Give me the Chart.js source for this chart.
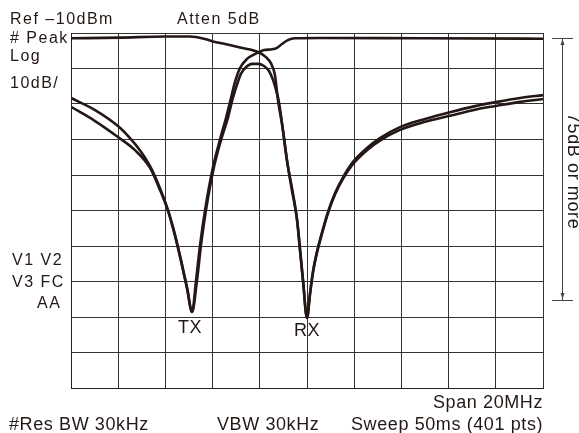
<!DOCTYPE html>
<html>
<head>
<meta charset="utf-8">
<script src="https://cdn.jsdelivr.net/npm/chart.js@4/dist/chart.umd.min.js"></script>
<style>
  html, body { margin: 0; padding: 0; background: #fff; }
  #mycanvas { display: block; }
</style>
</head>
<body>
<canvas id="mycanvas" width="579" height="433"></canvas>
<script>
// frequency offset across the 20MHz span (MHz) and level (dBm)
var freqA  = [0, 2.08, 3.98, 5.04, 5.68, 6.02, 6.53, 7.16, 7.97, 8.26, 8.47, 8.64, 8.77, 8.98, 9.15, 9.36, 9.58, 9.70, 9.83, 10.0,
              10.13, 10.25, 10.42, 10.64, 10.89, 11.19, 11.53, 11.95, 12.54, 13.09, 13.94, 15.0, 16.06, 17.12, 18.05, 19.03, 20.0];
var levelA = [-11.5, -11.3, -11.0, -11.0, -11.7, -12.4, -13.1, -14.1, -15.5, -16.8, -18.5, -21.8, -28.9, -37.3, -45.8, -54.2, -62.7, -71.1, -79.6, -90.3,
              -83.2, -77.3, -71.7, -66.1, -60.4, -55.1, -50.6, -46.3, -42.4, -39.6, -36.5, -34.2, -32.3, -30.6, -29.4, -28.3, -27.5];

var freqB  = [0, 1.02, 1.99, 2.50, 2.92, 3.35, 3.77, 4.11, 4.41, 4.66, 4.92, 5.13, 5.30, 5.47, 5.68, 6.02, 6.31, 6.57, 6.78, 6.95,
              7.16, 7.46, 7.71, 7.97, 8.18, 8.52, 8.73, 8.94, 9.19, 9.49, 10.55, 14.79, 20.0];
var levelB = [-28.3, -31.7, -36.2, -39.6, -43.0, -47.5, -53.7, -59.9, -66.9, -73.9, -81.8, -88.6, -79.6, -69.7, -59.9, -47.7, -40.1, -33.9, -28.3, -23.8,
              -19.9, -17.3, -16.2, -15.4, -14.8, -14.6, -14.2, -13.1, -12.0, -11.5, -11.4, -11.5, -11.6];

var freqC  = [0, 1.02, 1.99, 2.71, 3.35, 3.77, 4.11, 4.41, 4.66, 4.92, 5.13, 5.34, 5.51, 5.72, 6.06, 6.36, 6.65, 6.86, 7.03, 7.20,
              7.42, 7.67, 7.92, 8.18, 8.39, 8.56, 8.69, 8.81, 9.15, 9.58, 9.83, 10.0, 10.13, 10.25, 10.42, 10.64, 10.89, 11.19, 11.53,
              11.95, 12.54, 13.09, 13.94, 15.0, 16.06, 17.12, 18.05, 19.03, 20.0];
var levelC = [-30.8, -34.8, -39.3, -43.0, -48.0, -54.2, -60.1, -67.2, -74.2, -82.1, -88.6, -79.6, -69.7, -59.9, -47.7, -40.1, -33.9, -28.3, -24.6, -21.5,
              -19.6, -18.7, -18.7, -19.3, -20.7, -23.2, -26.1, -29.4, -45.8, -62.7, -79.6, -90.3, -83.5, -77.6, -72.0, -66.4, -60.7, -55.4, -51.0,
              -46.9, -43.0, -40.3, -37.3, -35.0, -33.3, -31.6, -30.5, -29.4, -28.6];

var xTicks = [0, 2, 4, 6, 8, 10, 12, 14, 16, 18, 20];
var yTicks = [-110, -100, -90, -80, -70, -60, -50, -40, -30, -20, -10];

var headLeft = ["Ref \u201310dBm", "# Peak", "Log", "10dB/"];
var headTop = "Atten 5dB";
var sideLeft = ["V1 V2", "V3 FC", "AA"];
var markers = ["TX", "RX"];
var footer = ["Span 20MHz", "#Res BW 30kHz", "VBW 30kHz", "Sweep 50ms (401 pts)"];
var sideNote = "75dB or more";

function pts(fs, ls) {
	var out = [];
	for (var i in fs) {
		out.push({x: fs[i], y: ls[i]});
	}
	return out;
}

var ink = '#231815';
var FONT = '"Liberation Sans", Arial, sans-serif';

function trace(fs, ls) {
	return {
		data: pts(fs, ls),
		borderColor: ink,
		borderWidth: 2.6,
		pointRadius: 0,
		fill: false,
		cubicInterpolationMode: 'monotone'
	};
}

var labelsPlugin = {
	id: 'screenText',
	afterDraw: function(chart) {
		var ctx = chart.ctx;
		ctx.save();
		ctx.fillStyle = ink;
		ctx.textBaseline = 'alphabetic';
		ctx.textAlign = 'left';

		ctx.font = '16px ' + FONT;
		ctx.letterSpacing = '1.5px';
		ctx.fillText(headLeft[0], 10, 24);
		ctx.fillText(headLeft[1], 10, 43);
		ctx.fillText(headLeft[2], 10, 61);
		ctx.fillText(headLeft[3], 10, 88);
		ctx.fillText(headTop, 177, 24);
		ctx.fillText(sideLeft[0], 12, 265);
		ctx.fillText(sideLeft[1], 12, 287);
		ctx.fillText(sideLeft[2], 37, 308);

		ctx.font = '18px ' + FONT;
		ctx.letterSpacing = '0.6px';
		ctx.fillText(markers[0], 178, 333);
		ctx.fillText(markers[1], 294, 336);
		ctx.fillText(footer[0], 433, 408);
		ctx.fillText(footer[1], 9, 430);
		ctx.fillText(footer[2], 217, 430);
		ctx.fillText(footer[3], 351, 430);

		// level bracket on the right
		var yTop = chart.scales.y.getPixelForValue(-11.4);
		var yBot = 300;
		ctx.strokeStyle = '#444';
		ctx.lineWidth = 1;
		ctx.beginPath();
		ctx.moveTo(562.5, yTop); ctx.lineTo(562.5, yBot);
		ctx.moveTo(552, yTop + 0.5); ctx.lineTo(573, yTop + 0.5);
		ctx.moveTo(552, yBot + 0.5); ctx.lineTo(573, yBot + 0.5);
		ctx.stroke();
		ctx.fillStyle = '#444';
		ctx.beginPath();
		ctx.moveTo(562.5, yTop + 1); ctx.lineTo(560.5, yTop + 7); ctx.lineTo(564.5, yTop + 7);
		ctx.closePath(); ctx.fill();
		ctx.beginPath();
		ctx.moveTo(562.5, yBot - 1); ctx.lineTo(560.5, yBot - 7); ctx.lineTo(564.5, yBot - 7);
		ctx.closePath(); ctx.fill();

		ctx.fillStyle = ink;
		ctx.translate(568, 113);
		ctx.rotate(Math.PI / 2);
		ctx.fillText(sideNote, 0, 0);
		ctx.restore();
	}
};

var ctx = document.getElementById('mycanvas');

var chart = new Chart(ctx, {
	type: 'line',
	data: {
		datasets: [trace(freqA, levelA), trace(freqB, levelB), trace(freqC, levelC)]
	},
	options: {
		responsive: false,
		animation: false,
		devicePixelRatio: 1,
		layout: { padding: { left: 71, right: 36, top: 33, bottom: 45 } },
		plugins: { legend: { display: false }, tooltip: { enabled: false } },
		scales: {
			x: {
				type: 'linear',
				min: 0,
				max: 20,
				afterBuildTicks: function(s) { s.ticks = xTicks.map(function(v) { return {value: v}; }); },
				ticks: { display: false },
				grid: { color: '#333', lineWidth: 1, drawTicks: false },
				border: { display: true, color: '#222', width: 1 }
			},
			y: {
				type: 'linear',
				min: -110,
				max: -10,
				afterBuildTicks: function(s) { s.ticks = yTicks.map(function(v) { return {value: v}; }); },
				ticks: { display: false },
				grid: { color: '#333', lineWidth: 1, drawTicks: false },
				border: { display: true, color: '#222', width: 1 }
			}
		}
	},
	plugins: [labelsPlugin]
});
</script>
</body>
</html>
